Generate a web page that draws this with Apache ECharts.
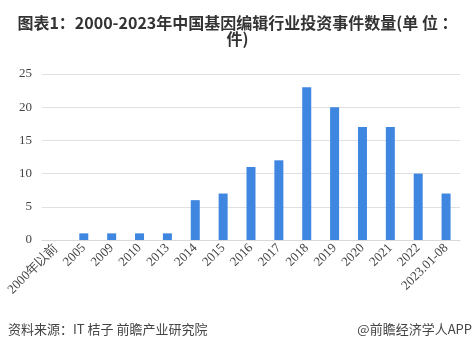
<!DOCTYPE html>
<html>
<head>
<meta charset="utf-8">
<script src="https://cdn.jsdelivr.net/npm/echarts@6/dist/echarts.min.js"></script>
<style>
  html, body { margin: 0; padding: 0; background: #fff; }
  #chart { width: 475px; height: 351px; }
</style>
</head>
<body>
<div id="chart"></div>
<script>
const categories = ['2000年以前', '2005', '2009', '2010', '2013', '2014', '2015', '2016', '2017', '2018', '2019', '2020', '2021', '2022', '2023.01-08'];
const counts = [0, 1, 1, 1, 1, 6, 7, 11, 12, 23, 20, 17, 17, 10, 7];
const yTicks = [0, 5, 10, 15, 20, 25];

const myChart = echarts.init(document.getElementById('chart'));

const option = {
  animation: false,
  title: {
    text: '图表1：2000-2023年中国基因编辑行业投资事件数量(单 位 ：\n件)',
    left: 'center',
    top: 10,
    textStyle: {
      fontFamily: 'Noto Sans CJK SC',
      fontSize: 16,
      fontWeight: 'bold',
      color: '#333',
      lineHeight: 16
    }
  },
  graphic: [
    {
      type: 'text',
      left: 8,
      top: 323,
      style: { text: '资料来源：IT 桔子 前瞻产业研究院', fontSize: 13, fill: '#444', fontFamily: 'Noto Sans CJK SC' }
    },
    {
      type: 'text',
      right: 3,
      top: 323,
      style: { text: '@前瞻经济学人APP', fontSize: 13, fill: '#444', fontFamily: 'Noto Sans CJK SC' }
    }
  ],
  grid: {
    top: 74,
    left: 42,
    right: 15,
    bottom: 111,
    containLabel: false
  },
  xAxis: {
    type: 'category',
    data: categories,
    axisTick: { show: false },
    axisLine: { lineStyle: { color: '#d9d9d9' } },
    axisLabel: {
      interval: 0,
      rotate: 45,
      fontFamily: 'Liberation Serif',
      fontSize: 13,
      color: '#444',
      margin: 6
    }
  },
  yAxis: {
    type: 'value',
    min: yTicks[0],
    max: yTicks[yTicks.length - 1],
    interval: 5,
    axisLine: { show: false },
    axisTick: { show: false },
    axisLabel: {
      fontFamily: 'Liberation Serif',
      fontSize: 13,
      color: '#444',
      margin: 10
    },
    splitLine: { lineStyle: { color: '#e0e0e0' } }
  },
  series: [{
    type: 'bar',
    data: counts,
    barWidth: 9,
    itemStyle: { color: '#3f86e0' }
  }]
};

myChart.setOption(option);
</script>
</body>
</html>
